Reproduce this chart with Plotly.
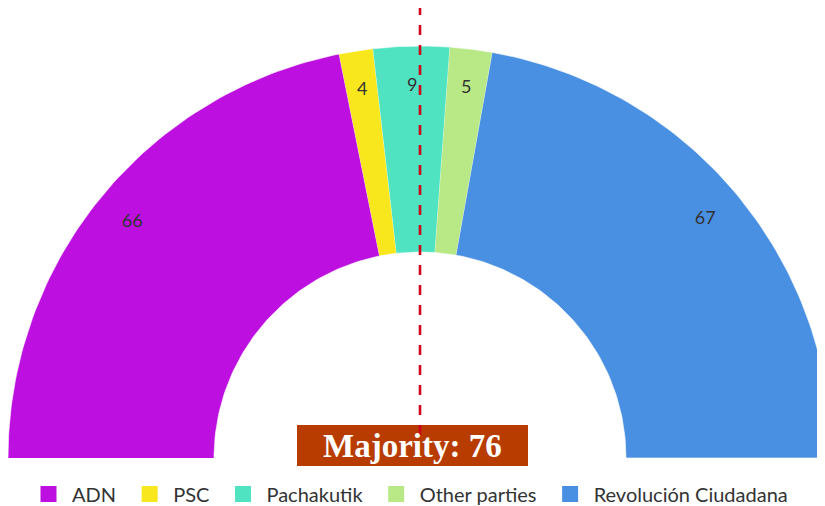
import numpy as np
import plotly.graph_objects as go

parties = ["ADN", "PSC", "Pachakutik", "Other parties", "Revolución Ciudadana"]
seats = [66, 4, 9, 5, 67]
colors = ["#BD10E0", "#F8E71C", "#50E3C2", "#B8E986", "#4A90E2"]
majority = 76

R_OUT, R_IN, R_LAB = 1.0, 0.5, 0.903
total = sum(seats)
NB = "\u00a0"

fig = go.Figure()
cum = 0
for name, v, c in zip(parties, seats, colors):
    a0 = np.pi - np.pi * cum / total
    a1 = np.pi - np.pi * (cum + v) / total
    t = np.linspace(a0, a1, 80)
    xs = np.concatenate([R_OUT * np.cos(t), R_IN * np.cos(t[::-1])])
    ys = np.concatenate([R_OUT * np.sin(t), R_IN * np.sin(t[::-1])])
    fig.add_trace(go.Scatter(x=xs, y=ys, fill="toself", fillcolor=c, mode="lines",
                             line=dict(color="white", width=0.6), showlegend=False,
                             hoverinfo="skip", name=name))
    am = (a0 + a1) / 2
    fig.add_trace(go.Scatter(x=[R_LAB * np.cos(am)], y=[R_LAB * np.sin(am)], mode="text",
                             text=[str(v)], textfont=dict(family="Lato", size=18, color="#333333"),
                             showlegend=False, hoverinfo="skip"))
    fig.add_trace(go.Scatter(x=[None], y=[None], mode="markers", name=name + NB,
                             marker=dict(symbol="square", size=19, color=c)))
    cum += v

# page offset of 8px (body margin) compensated
OFF = 8
W, H = 825, 506
px0, py0, RP = 420 - OFF, 458 - OFF, 412
fig.update_layout(
    width=W, height=H, margin=dict(l=0, r=0, t=0, b=0, autoexpand=False),
    paper_bgcolor="white", plot_bgcolor="white",
    xaxis=dict(range=[-px0 / RP, (W - px0) / RP], visible=False, fixedrange=True),
    yaxis=dict(range=[-(H - py0) / RP, py0 / RP], visible=False, fixedrange=True),
    legend=dict(orientation="h", x=(39 - OFF - 14) / W, xanchor="left",
                y=(H - (494 - OFF)) / H, yanchor="middle",
                font=dict(family="Lato", size=20, color="#333333"),
                itemwidth=37, tracegroupgap=0, bgcolor="rgba(0,0,0,0)"),
    shapes=[
        dict(type="rect", xref="x", yref="y", x0=(297 - OFF - px0) / RP, x1=(528 - OFF - px0) / RP,
             y0=(py0 - (466 - OFF)) / RP, y1=(py0 - (425 - OFF)) / RP, fillcolor="#B83C00",
             line=dict(width=0), layer="above"),
        dict(type="line", xref="x", yref="y", x0=0, x1=0, y0=(py0 - (435 - OFF)) / RP, y1=(py0 + OFF) / RP,
             line=dict(color="#D0021B", width=2.6, dash="10px,10px"), layer="above"),
    ],
    annotations=[
        dict(x=(412 - OFF - px0) / RP, y=(py0 - (446 - OFF)) / RP, xref="x", yref="y", showarrow=False,
             text="<b>Majority: %d</b>" % majority,
             font=dict(family="Liberation Serif", size=33, color="white")),
    ],
)
fig.write_html("out.html")
